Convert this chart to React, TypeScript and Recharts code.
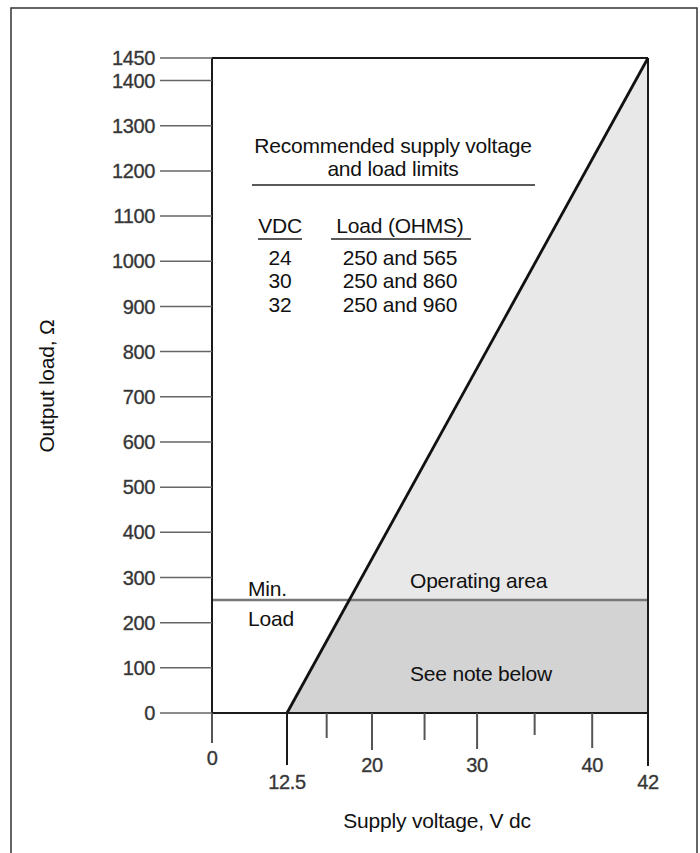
import React from 'react';
import { ComposedChart, Line, Area, XAxis, YAxis, ReferenceLine } from 'recharts';

// supply voltage (V dc) axis
const voltageTicks = [0, 12.5, 16, 20, 25, 30, 35, 40, 42];
const labeledVoltages = [0, 12.5, 20, 30, 40, 42];

// output load (ohms) axis
const loadTicks = [0, 100, 200, 300, 400, 500, 600, 700, 800, 900, 1000, 1100, 1200, 1300, 1400, 1450];

// load limit line: 12.5 V -> 0 ohm, 42 V -> 1450 ohm
const limitVoltage = [12.5, 42];
const limitLoad = [0, 1450];
const minLoad = 250;

// recommended table
const tableVdc = [24, 30, 32];
const tableLoad = ['250 and 565', '250 and 860', '250 and 960'];

const limitData = limitVoltage.map((v, i) => ({ v, load: limitLoad[i] }));

const FONT = '"Liberation Sans", Arial, Helvetica, sans-serif';

// the printed axis is not uniform, so map voltage piecewise between the labelled stops
const STOP_POS = [0, 0.172, 0.367, 0.608, 0.872, 1];

function makeVoltScale(): any {
  let dom = [labeledVoltages[0], labeledVoltages[labeledVoltages.length - 1]];
  let rng = [0, 1];
  const scale: any = (value: number) => {
    const s = labeledVoltages;
    let i = 0;
    while (i < s.length - 2 && value > s[i + 1]) i++;
    const t = (value - s[i]) / (s[i + 1] - s[i]);
    const f = STOP_POS[i] + t * (STOP_POS[i + 1] - STOP_POS[i]);
    return rng[0] + f * (rng[rng.length - 1] - rng[0]);
  };
  scale.domain = (d?: number[]) => {
    if (d === undefined) return dom;
    dom = [...d];
    return scale;
  };
  scale.range = (r?: number[]) => {
    if (r === undefined) return rng;
    rng = [...r];
    return scale;
  };
  scale.copy = () => makeVoltScale().domain(dom).range(rng);
  scale.ticks = () => voltageTicks;
  scale.invert = (px: number) => {
    const f = (px - rng[0]) / (rng[rng.length - 1] - rng[0]);
    const s = labeledVoltages;
    let i = 0;
    while (i < s.length - 2 && f > STOP_POS[i + 1]) i++;
    const t = (f - STOP_POS[i]) / (STOP_POS[i + 1] - STOP_POS[i]);
    return s[i] + t * (s[i + 1] - s[i]);
  };
  return scale;
}

const voltScale = makeVoltScale();

const tickLen: Record<string, number> = { '0': 30, '12.5': 52, '16': 25, '20': 37, '25': 27, '30': 36, '35': 22, '40': 35, '42': 53 };
const labelDy: Record<string, number> = { '0': 45, '12.5': 69, '20': 52, '30': 52, '40': 52, '42': 69 };

const VoltTick = (props: any) => {
  const { x, y, payload } = props;
  const key = String(payload.value);
  const strong = key === '12.5' || key === '42';
  return (
    <g>
      <line x1={x} x2={x} y1={y} y2={y + (tickLen[key] || 25)} stroke={strong ? '#1a1a1a' : '#555'} strokeWidth={2} />
      {labeledVoltages.includes(payload.value) && (
        <text x={x} y={y + labelDy[key]} textAnchor="middle" dominantBaseline="central"
          fontFamily={FONT} fontSize={20} fill="#333" stroke="#444" strokeWidth={0.35} letterSpacing={-0.4}>
          {key}
        </text>
      )}
    </g>
  );
};

const txt = { fontFamily: FONT, fontSize: 21, fill: '#111', letterSpacing: -0.2 } as const;

export default function App() {
  const split = 1 - minLoad / limitLoad[1];
  return (
    <div style={{ position: 'absolute', left: 0, top: 0, width: 700, height: 853, background: '#fff', overflow: 'hidden' }}>
      <div style={{ position: 'absolute', left: 0, top: 0 }}>
        <ComposedChart width={700} height={853} data={limitData} margin={{ top: 58, right: 52, left: 0, bottom: 0 }}>
          <defs>
            <linearGradient id="opArea" x1="0" y1="0" x2="0" y2="1">
              <stop offset={0} stopColor="#e8e8e8" />
              <stop offset={split} stopColor="#e8e8e8" />
              <stop offset={split} stopColor="#d3d3d3" />
              <stop offset={1} stopColor="#d3d3d3" />
            </linearGradient>
          </defs>
          <XAxis
            dataKey="v"
            type="number"
            domain={[0, 42]}
            scale={voltScale}
            ticks={voltageTicks}
            interval={0}
            height={140}
            tickSize={0}
            tickMargin={0}
            tickLine={false}
            tick={<VoltTick />}
            axisLine={{ stroke: '#1a1a1a', strokeWidth: 2 }}
          />
          <YAxis
            type="number"
            domain={[0, 1450]}
            ticks={loadTicks}
            interval={0}
            width={212}
            tickSize={52}
            tickMargin={5}
            tickLine={{ stroke: '#666', strokeWidth: 1.5 }}
            axisLine={{ stroke: '#1a1a1a', strokeWidth: 2 }}
            tick={{ fontFamily: FONT, fontSize: 20, fill: '#333', stroke: '#444', strokeWidth: 0.35, letterSpacing: -0.4 }}
          />
          <Area dataKey="load" type="linear" stroke="none" fill="url(#opArea)" fillOpacity={1} isAnimationActive={false} />
          <ReferenceLine y={minLoad} stroke="#777" strokeWidth={2.5} />
          <ReferenceLine y={limitLoad[1]} stroke="#1a1a1a" strokeWidth={2} />
          <ReferenceLine x={limitVoltage[1]} stroke="#1a1a1a" strokeWidth={2} />
          <Line dataKey="load" type="linear" stroke="#111" strokeWidth={2.8} dot={false} isAnimationActive={false} />
        </ComposedChart>
      </div>
      <svg width={700} height={853} style={{ position: 'absolute', left: 0, top: 0, pointerEvents: 'none' }}>
        <rect x={11} y={8} width={686} height={900} fill="none" stroke="#333" strokeWidth={1.5} />

        <text {...txt} x={393} y={145} textAnchor="middle" dominantBaseline="central">Recommended supply voltage</text>
        <text {...txt} x={393} y={168} textAnchor="middle" dominantBaseline="central">and load limits</text>
        <line x1={252} x2={535} y1={185} y2={185} stroke="#222" strokeWidth={1.5} />

        <text {...txt} x={280} y={225} textAnchor="middle" dominantBaseline="central">VDC</text>
        <text {...txt} x={400} y={225} textAnchor="middle" dominantBaseline="central">Load (OHMS)</text>
        <line x1={258} x2={302} y1={239} y2={239} stroke="#222" strokeWidth={1.5} />
        <line x1={331} x2={471} y1={239} y2={239} stroke="#222" strokeWidth={1.5} />
        {tableVdc.map((v, i) => (
          <g key={v}>
            <text {...txt} x={280} y={257 + i * 23.5} textAnchor="middle" dominantBaseline="central">{v}</text>
            <text {...txt} x={400} y={257 + i * 23.5} textAnchor="middle" dominantBaseline="central">{tableLoad[i]}</text>
          </g>
        ))}

        <text {...txt} x={248} y={588} dominantBaseline="central">Min.</text>
        <text {...txt} x={248} y={618} dominantBaseline="central">Load</text>
        <text {...txt} x={410} y={580} dominantBaseline="central">Operating area</text>
        <text {...txt} x={410} y={673} dominantBaseline="central">See note below</text>

        <text {...txt} x={437} y={820} textAnchor="middle" dominantBaseline="central">Supply voltage, V dc</text>
        <text {...txt} x={46} y={386} textAnchor="middle" dominantBaseline="central" transform="rotate(-90 46 386)">
          Output load, Ω
        </text>
      </svg>
    </div>
  );
}
